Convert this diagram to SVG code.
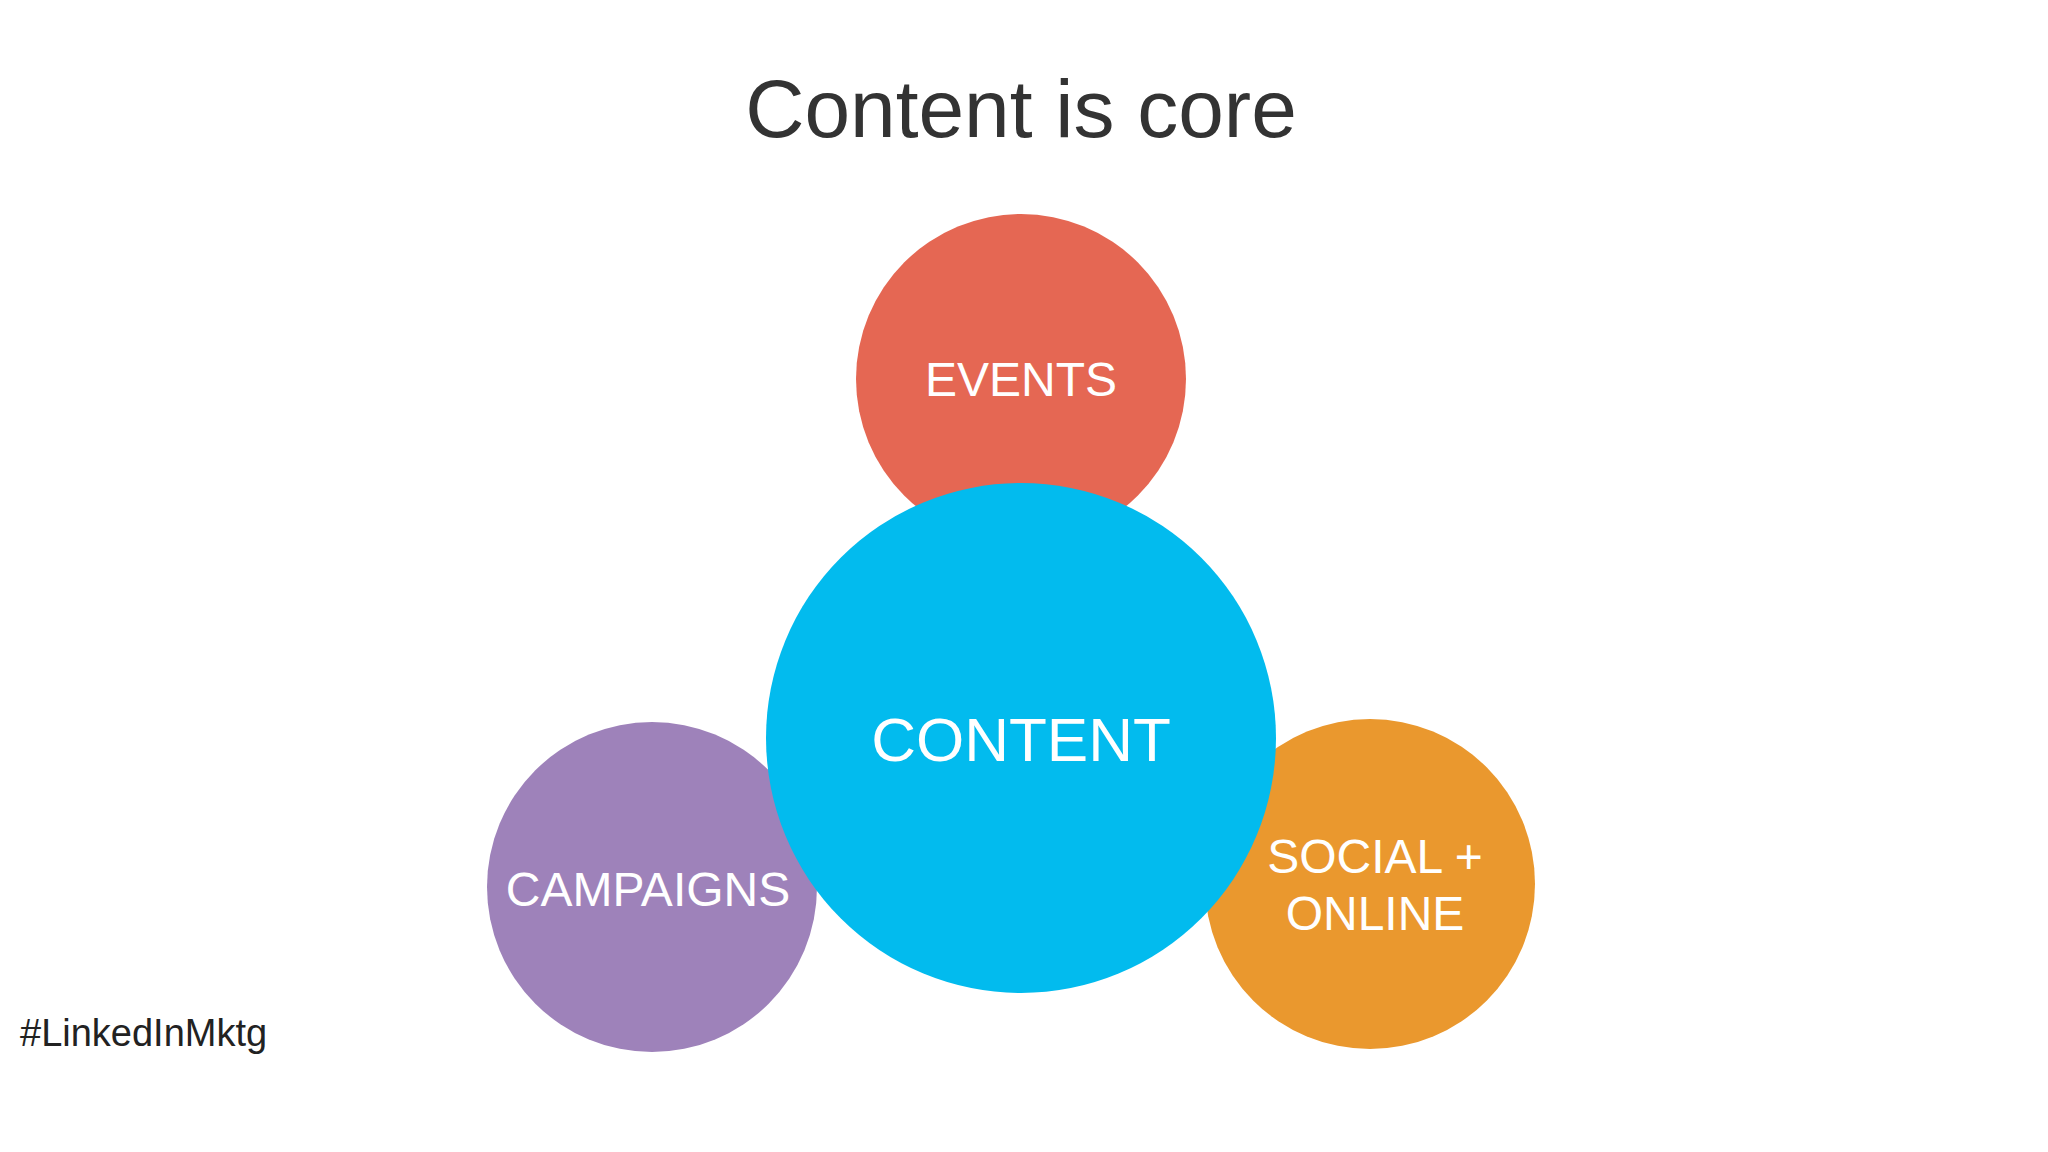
<svg xmlns="http://www.w3.org/2000/svg" width="2048" height="1152" viewBox="0 0 2048 1152">
<style>
.t{font-family:"Liberation Sans",Arial,sans-serif;fill:#fff;text-anchor:middle}
</style>
<rect width="2048" height="1152" fill="#fff"/>
<text x="1021" y="137" font-family="Liberation Sans,Arial,sans-serif" font-size="82" fill="#333" text-anchor="middle">Content is core</text>
<g id="events"><circle cx="1021" cy="379" r="165" fill="#E56753"/><text class="t" x="1021" y="396" font-size="48">EVENTS</text></g>
<g id="campaigns"><circle cx="652" cy="887" r="165" fill="#9E82BA"/><text class="t" x="648" y="906" font-size="48">CAMPAIGNS</text></g>
<g id="social"><circle cx="1370" cy="884" r="165" fill="#EA982E"/><text class="t" x="1375" y="873" font-size="48">SOCIAL +</text><text class="t" x="1375" y="930" font-size="48">ONLINE</text></g>
<g id="content"><circle cx="1021" cy="738" r="255" fill="#02BBEE"/><text class="t" x="1021" y="761" font-size="62">CONTENT</text></g>
<g id="connectors"></g>
<text x="20" y="1046" font-family="Liberation Sans,Arial,sans-serif" font-size="38" fill="#222">#LinkedInMktg</text>
</svg>
